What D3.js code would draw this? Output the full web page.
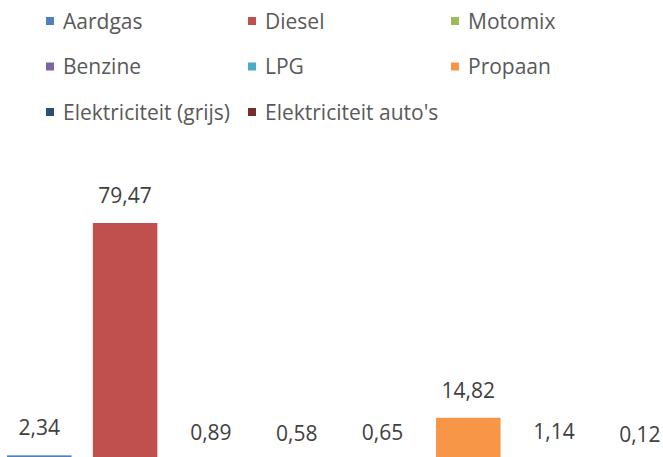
<!DOCTYPE html>
<html>
<head>
<meta charset="utf-8">
<script src="https://cdn.jsdelivr.net/npm/d3@7"></script>
<style>
  body { margin: 0; background: #fff; }
  svg { display: block; font-family: "Open Sans", sans-serif; }
</style>
</head>
<body>
<div id="canvas"></div>
<script>
// data
const categories = ["Aardgas", "Diesel", "Motomix", "Benzine", "LPG", "Propaan",
    "Elektriciteit (grijs)", "Elektriciteit auto's"];
const values = [2.34, 79.47, 0.89, 0.58, 0.65, 14.82, 1.14, 0.12];
const colors = ["#4F81BD", "#C0504D", "#9BBB59", "#8064A2", "#4BACC6", "#F79646",
    "#2C4D75", "#772C2A"];

const width = 663, height = 457;

const svg = d3.select("#canvas")
    .append("svg")
    .attr("width", width)
    .attr("height", height);

// plot area runs a bit past the picture edges (the original is cropped)
const xScale = d3.scaleBand()
    .domain(categories)
    .range([-3.6, 682.8])
    .paddingInner(0.248)
    .paddingOuter(0.124);

const yScale = d3.scaleLinear()
    .domain([0, 80])
    .range([462.4, 221.4]);

const fmt = v => d3.format(".2f")(v).replace(".", ",");

// bars
svg.append("g")
    .selectAll("rect")
    .data(categories)
    .enter()
    .append("rect")
    .attr("x", d => xScale(d))
    .attr("y", (d, i) => yScale(values[i]))
    .attr("width", xScale.bandwidth())
    .attr("height", (d, i) => yScale(0) - yScale(values[i]))
    .style("fill", (d, i) => colors[i]);

// value labels
svg.append("g")
    .selectAll("text")
    .data(categories)
    .enter()
    .append("text")
    .attr("x", d => xScale(d) + xScale.bandwidth() / 2)
    .attr("y", (d, i) => yScale(values[i]) - 20)
    .attr("text-anchor", "middle")
    .style("font-size", "21px")
    .style("fill", "#404040")
    .text((d, i) => fmt(values[i]));

// legend, 3 columns
const legendX = [46, 248, 451];
const legendY = [21, 66.5, 112];

const legend = svg.append("g")
    .selectAll("g")
    .data(categories)
    .enter()
    .append("g")
    .attr("transform", (d, i) =>
        "translate(" + legendX[i % 3] + "," + legendY[Math.floor(i / 3)] + ")");

legend.append("rect")
    .attr("x", 0)
    .attr("y", -4)
    .attr("width", 8)
    .attr("height", 8)
    .style("fill", (d, i) => colors[i]);

legend.append("text")
    .attr("x", 17)
    .attr("y", 7.5)
    .style("font-size", "21px")
    .style("fill", "#595959")
    .text(d => d);
</script>
</body>
</html>
